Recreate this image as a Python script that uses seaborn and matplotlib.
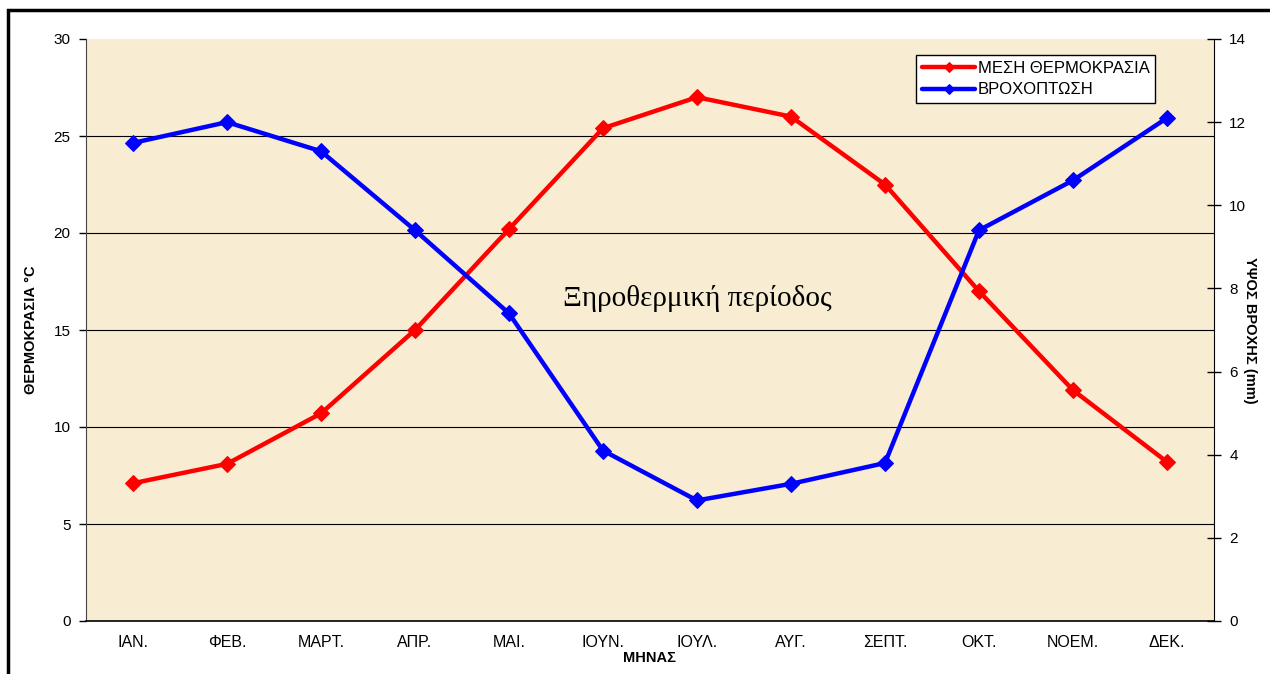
import matplotlib
matplotlib.use("Agg")
import matplotlib.pyplot as plt
import seaborn as sns
import pandas as pd
from matplotlib.patches import Rectangle

## months and the two series
months = ["ΙΑΝ.", "ΦΕΒ.", "ΜΑΡΤ.", "ΑΠΡ.", "ΜΑΙ.", "ΙΟΥΝ.", "ΙΟΥΛ.", "ΑΥΓ.", "ΣΕΠΤ.", "ΟΚΤ.", "ΝΟΕΜ.", "ΔΕΚ."]
temperature = [7.1, 8.1, 10.7, 15.0, 20.2, 25.4, 27.0, 26.0, 22.5, 17.0, 11.9, 8.2]
rainfall = [11.5, 12.0, 11.3, 9.4, 7.4, 4.1, 2.9, 3.3, 3.8, 9.4, 10.6, 12.1]
temp_ticks = [0, 5, 10, 15, 20, 25, 30]
rain_ticks = [0, 2, 4, 6, 8, 10, 12, 14]

df = pd.DataFrame({"pos": range(len(months)), "temp": temperature, "rain": rainfall})

sns.set_style("white")
plt.rcParams["font.family"] = ["Liberation Sans", "DejaVu Sans"]
plt.rcParams["text.color"] = "black"
plt.rcParams["axes.labelcolor"] = "black"
plt.rcParams["xtick.color"] = "black"
plt.rcParams["ytick.color"] = "black"

fig = plt.figure(figsize=(12.7, 6.74), dpi=100)
ax = fig.add_axes([86 / 1270, 1 - 621 / 674, 1128 / 1270, 582 / 674])
ax.set_facecolor("#f8ecd2")

## horizontal grid on the temperature ticks
for t in temp_ticks[1:-1]:
    ax.axhline(t, color="black", lw=0.8, zorder=0)

sns.lineplot(data=df, x="pos", y="temp", ax=ax, color="#ff0000", lw=3.2,
             marker="D", markersize=8, markeredgecolor="#ff0000", sort=False,
             label="ΜΕΣΗ ΘΕΡΜΟΚΡΑΣΙΑ", legend=False)

ax2 = ax.twinx()
sns.lineplot(data=df, x="pos", y="rain", ax=ax2, color="#0000ff", lw=3.2,
             marker="D", markersize=8, markeredgecolor="#0000ff", sort=False,
             label="ΒΡΟΧΟΠΤΩΣΗ", legend=False)

ax.set_xlim(-0.5, 11.5)
ax.set_ylim(0, 30)
ax2.set_ylim(0, 14)
ax.set_yticks(temp_ticks)
ax2.set_yticks(rain_ticks)
ax.set_xticks([i + 0.5 for i in range(-1, 12)], minor=False)
ax.set_xticklabels([])
ax.set_xticks(range(12), minor=True)
ax.set_xticklabels(months, minor=True)
ax.tick_params(axis="x", which="major", direction="out", length=5, width=1)
ax.tick_params(axis="x", which="minor", length=0, labelsize=11.5, pad=10)
ax.tick_params(axis="y", direction="out", length=5, width=1, labelsize=11, pad=6)
ax2.tick_params(axis="y", direction="inout", length=10, width=1, labelsize=11, pad=6)

for a in (ax, ax2):
    for s in a.spines.values():
        s.set_visible(False)
ax.spines["left"].set_visible(True)
ax.spines["bottom"].set_visible(True)
ax2.spines["right"].set_visible(True)
ax.spines["left"].set_color("#444444")
ax.spines["bottom"].set_color("black")
ax2.spines["right"].set_color("black")
ax.spines["bottom"].set_linewidth(1.2)

ax.set_xlabel("ΜΗΝΑΣ", fontsize=10.5, fontweight="bold", labelpad=1)
ax.set_ylabel("ΘΕΡΜΟΚΡΑΣΙΑ °C", fontsize=10.5, fontweight="bold", labelpad=11)
ax2.set_ylabel("ΥΨΟΣ ΒΡΟΧΗΣ (mm)", fontsize=10.5, fontweight="bold", rotation=270, labelpad=8)

ax.text(6.0, 16.6, "Ξηροθερμική περίοδος", fontsize=21, family=["Liberation Serif", "DejaVu Serif"],
        ha="center", va="center")

h1, l1 = ax.get_legend_handles_labels()
h2, l2 = ax2.get_legend_handles_labels()
leg = ax2.legend(h1 + h2, l1 + l2, loc="upper left", bbox_to_anchor=(0.7285, 0.987),
                 fancybox=False, framealpha=1, edgecolor="black", fontsize=12,
                 handlelength=3.2, handletextpad=0.15, borderpad=0.35, labelspacing=0.4,
                 markerscale=0.7)
leg.get_frame().set_linewidth(1)

## outer chart border
fig.patches.append(Rectangle((8 / 1270, -0.05), 1.1, 1 - 10 / 674 + 0.05, transform=fig.transFigure,
                             fill=False, edgecolor="black", lw=2.5))

fig.savefig("out.png", dpi=100)
